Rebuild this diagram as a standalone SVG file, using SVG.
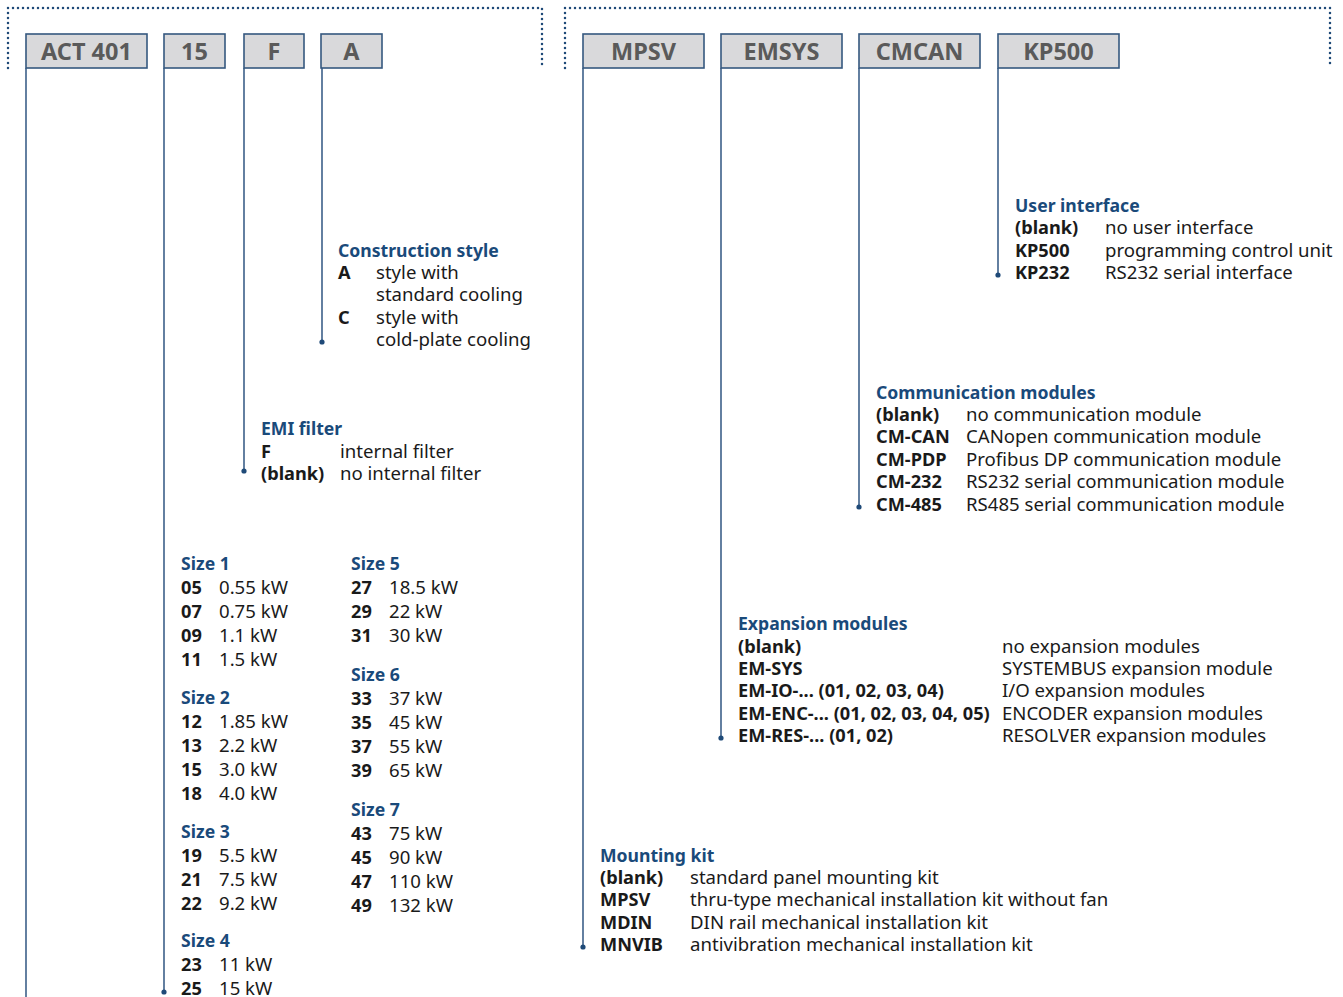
<svg xmlns="http://www.w3.org/2000/svg" width="1343" height="997" viewBox="0 0 1343 997">
<style>
.dot{fill:none;stroke:#1f4a78;stroke-width:2.5;stroke-linecap:round;stroke-dasharray:0 5}
.ln{stroke:#3d6089;stroke-width:1.6;fill:none}
.end{fill:#1f4a78}
.box{fill:#d9d9db;stroke:#35587f;stroke-width:1.6}
.bt{font-family:"Noto Sans","Open Sans",sans-serif;font-weight:bold;font-size:23.5px;fill:#5a5a5a;text-anchor:middle}
text{font-family:"Noto Sans","Open Sans",sans-serif;font-size:18.6px;fill:#1a1a1a}
.h{font-weight:bold;fill:#1a4a7a;font-size:17.6px}
.b{font-weight:bold;font-size:18.2px}
</style>
<rect width="1343" height="997" fill="#ffffff"/>
<g id="brackets">
<path class="dot" d="M8,68 V8 H542 V68"/>
<path class="dot" d="M565,68 V8 H1330 V68"/>
</g>
<g id="connectors">
<line class="ln" x1="26" y1="68" x2="26" y2="997"/>
<line class="ln" x1="164" y1="68" x2="164" y2="992"/><circle class="end" cx="164" cy="992" r="2.6"/>
<line class="ln" x1="244" y1="68" x2="244" y2="471"/><circle class="end" cx="244" cy="471" r="2.6"/>
<line class="ln" x1="322" y1="68" x2="322" y2="342"/><circle class="end" cx="322" cy="342" r="2.6"/>
<line class="ln" x1="583" y1="68" x2="583" y2="947"/><circle class="end" cx="583" cy="947" r="2.6"/>
<line class="ln" x1="721" y1="68" x2="721" y2="738"/><circle class="end" cx="721" cy="738" r="2.6"/>
<line class="ln" x1="859" y1="68" x2="859" y2="507"/><circle class="end" cx="859" cy="507" r="2.6"/>
<line class="ln" x1="998" y1="68" x2="998" y2="275"/><circle class="end" cx="998" cy="275" r="2.6"/>
</g>
<g id="box-act401"><rect class="box" x="26" y="34" width="121" height="34"/><text class="bt" x="86.5" y="60">ACT 401</text></g>
<g id="box-15"><rect class="box" x="164" y="34" width="61" height="34"/><text class="bt" x="194.5" y="60">15</text></g>
<g id="box-f"><rect class="box" x="244" y="34" width="60" height="34"/><text class="bt" x="274" y="60">F</text></g>
<g id="box-a"><rect class="box" x="321" y="34" width="61" height="34"/><text class="bt" x="351.5" y="60">A</text></g>
<g id="box-mpsv"><rect class="box" x="583" y="34" width="121" height="34"/><text class="bt" x="643.5" y="60">MPSV</text></g>
<g id="box-emsys"><rect class="box" x="721" y="34" width="121" height="34"/><text class="bt" x="781.5" y="60">EMSYS</text></g>
<g id="box-cmcan"><rect class="box" x="859" y="34" width="121" height="34"/><text class="bt" x="919.5" y="60">CMCAN</text></g>
<g id="box-kp500"><rect class="box" x="998" y="34" width="121" height="34"/><text class="bt" x="1058.5" y="60">KP500</text></g>

<g id="construction-style" transform="translate(0,1)">
<text class="h" x="338" y="256">Construction style</text>
<text class="b" x="338" y="278">A</text><text x="376" y="278">style with</text>
<text x="376" y="300">standard cooling</text>
<text class="b" x="338" y="323">C</text><text x="376" y="323">style with</text>
<text x="376" y="345">cold-plate cooling</text>
</g>
<g id="emi-filter" transform="translate(0,1)">
<text class="h" x="261" y="434">EMI filter</text>
<text class="b" x="261" y="457">F</text><text x="340" y="457">internal filter</text>
<text class="b" x="261" y="479">(blank)</text><text x="340" y="479">no internal filter</text>
</g>
<g id="sizes" transform="translate(0,1)">
<text class="h" x="181" y="569">Size 1</text>
<text class="b" x="181" y="593">05</text><text x="219" y="593">0.55 kW</text>
<text class="b" x="181" y="617">07</text><text x="219" y="617">0.75 kW</text>
<text class="b" x="181" y="641">09</text><text x="219" y="641">1.1 kW</text>
<text class="b" x="181" y="665">11</text><text x="219" y="665">1.5 kW</text>
<text class="h" x="181" y="703">Size 2</text>
<text class="b" x="181" y="727">12</text><text x="219" y="727">1.85 kW</text>
<text class="b" x="181" y="751">13</text><text x="219" y="751">2.2 kW</text>
<text class="b" x="181" y="775">15</text><text x="219" y="775">3.0 kW</text>
<text class="b" x="181" y="799">18</text><text x="219" y="799">4.0 kW</text>
<text class="h" x="181" y="837">Size 3</text>
<text class="b" x="181" y="861">19</text><text x="219" y="861">5.5 kW</text>
<text class="b" x="181" y="885">21</text><text x="219" y="885">7.5 kW</text>
<text class="b" x="181" y="909">22</text><text x="219" y="909">9.2 kW</text>
<text class="h" x="181" y="946">Size 4</text>
<text class="b" x="181" y="970">23</text><text x="219" y="970">11 kW</text>
<text class="b" x="181" y="994">25</text><text x="219" y="994">15 kW</text>
<text class="h" x="351" y="569">Size 5</text>
<text class="b" x="351" y="593">27</text><text x="389" y="593">18.5 kW</text>
<text class="b" x="351" y="617">29</text><text x="389" y="617">22 kW</text>
<text class="b" x="351" y="641">31</text><text x="389" y="641">30 kW</text>
<text class="h" x="351" y="680">Size 6</text>
<text class="b" x="351" y="704">33</text><text x="389" y="704">37 kW</text>
<text class="b" x="351" y="728">35</text><text x="389" y="728">45 kW</text>
<text class="b" x="351" y="752">37</text><text x="389" y="752">55 kW</text>
<text class="b" x="351" y="776">39</text><text x="389" y="776">65 kW</text>
<text class="h" x="351" y="815">Size 7</text>
<text class="b" x="351" y="839">43</text><text x="389" y="839">75 kW</text>
<text class="b" x="351" y="863">45</text><text x="389" y="863">90 kW</text>
<text class="b" x="351" y="887">47</text><text x="389" y="887">110 kW</text>
<text class="b" x="351" y="911">49</text><text x="389" y="911">132 kW</text>
</g>
<g id="user-interface" transform="translate(0,1)">
<text class="h" x="1015" y="211">User interface</text>
<text class="b" x="1015" y="233">(blank)</text><text x="1105" y="233">no user interface</text>
<text class="b" x="1015" y="256">KP500</text><text x="1105" y="256">programming control unit</text>
<text class="b" x="1015" y="278">KP232</text><text x="1105" y="278">RS232 serial interface</text>
</g>
<g id="communication-modules" transform="translate(0,1)">
<text class="h" x="876" y="398">Communication modules</text>
<text class="b" x="876" y="420">(blank)</text><text x="966" y="420">no communication module</text>
<text class="b" x="876" y="442">CM-CAN</text><text x="966" y="442">CANopen communication module</text>
<text class="b" x="876" y="465">CM-PDP</text><text x="966" y="465">Profibus DP communication module</text>
<text class="b" x="876" y="487">CM-232</text><text x="966" y="487">RS232 serial communication module</text>
<text class="b" x="876" y="510">CM-485</text><text x="966" y="510">RS485 serial communication module</text>
</g>
<g id="expansion-modules" transform="translate(0,1)">
<text class="h" x="738" y="629">Expansion modules</text>
<text class="b" x="738" y="652">(blank)</text><text x="1002" y="652">no expansion modules</text>
<text class="b" x="738" y="674">EM-SYS</text><text x="1002" y="674">SYSTEMBUS expansion module</text>
<text class="b" x="738" y="696">EM-IO-... (01, 02, 03, 04)</text><text x="1002" y="696">I/O expansion modules</text>
<text class="b" x="738" y="719">EM-ENC-... (01, 02, 03, 04, 05)</text><text x="1002" y="719">ENCODER expansion modules</text>
<text class="b" x="738" y="741">EM-RES-... (01, 02)</text><text x="1002" y="741">RESOLVER expansion modules</text>
</g>
<g id="mounting-kit" transform="translate(0,1)">
<text class="h" x="600" y="861">Mounting kit</text>
<text class="b" x="600" y="883">(blank)</text><text x="690" y="883">standard panel mounting kit</text>
<text class="b" x="600" y="905">MPSV</text><text x="690" y="905">thru-type mechanical installation kit without fan</text>
<text class="b" x="600" y="928">MDIN</text><text x="690" y="928">DIN rail mechanical installation kit</text>
<text class="b" x="600" y="950">MNVIB</text><text x="690" y="950">antivibration mechanical installation kit</text>
</g>
</svg>
